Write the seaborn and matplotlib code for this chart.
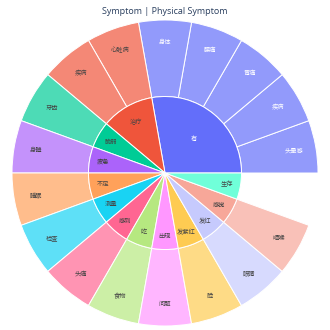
import colorsys
import numpy as np
import matplotlib
matplotlib.use("Agg")
import matplotlib.pyplot as plt
import matplotlib.colors as mcolors
import seaborn as sns

sns.set_theme(style="white")
plt.rcParams['font.family'] = ['Noto Sans CJK SC', 'DejaVu Sans']

# inner ring (level 1), counter-clockwise from 3 o'clock
inner_labels = ["有", "治疗", "脆弱", "疲惫", "不足", "测量", "感到", "吃", "出现", "发紫红", "发红", "感觉", "生存"]
# outer ring (level 2)
outer_parents = ["有", "有", "有", "有", "有", "治疗", "治疗", "脆弱", "疲惫", "不足", "测量",
                 "感到", "吃", "出现", "发紫红", "发红", "感觉"]
outer_labels = ["头晕感", "疾病", "胃痛", "腰痛", "身体", "心脏病", "疾病", "牙齿", "身體", "睡眠", "检查",
                "头痛", "食物", "问题", "脸", "眼睛", "咽喉"]
outer_counts = [1] * len(outer_labels)
leaf_counts = {"生存": 1}

base = ['#636efa', '#EF553B', '#00cc96', '#ab63fa', '#FFA15A',
        '#19d3f3', '#FF6692', '#B6E880', '#FF97FF', '#FECB52']


def lighten(c, amt):
    r, g, b = mcolors.to_rgb(c)
    h, l, s = colorsys.rgb_to_hls(r, g, b)
    return colorsys.hls_to_rgb(h, min(1, l + amt), s)


colorway = [mcolors.to_rgb(c) for c in base] + [lighten(c, 0.2) for c in base]


def fade(c, a=0.7):
    return tuple(a * x + (1 - a) for x in c)


def text_col(c):
    r, g, b = [x * 255 for x in c]
    return "white" if (r * 299 + g * 587 + b * 114) / 1000 < 128 else "#444444"


inner_counts = []
for lab in inner_labels:
    n = sum(v for p, v in zip(outer_parents, outer_counts) if p == lab)
    inner_counts.append(n if n else leaf_counts.get(lab, 0))

cmap = {lab: colorway[i] for i, lab in enumerate(inner_labels)}
inner_colors = [cmap[l] if l not in leaf_counts else fade(cmap[l]) for l in inner_labels]

outer_vals = list(outer_counts)
outer_cols = [fade(cmap[p]) for p in outer_parents]
outer_txt = list(outer_labels)
outer_tc = [text_col(cmap[p]) for p in outer_parents]
for lab in inner_labels:
    if lab in leaf_counts:
        outer_vals.append(leaf_counts[lab])
        outer_cols.append((1, 1, 1, 0))
        outer_txt.append("")
        outer_tc.append("none")

fig = plt.figure(figsize=(3.3, 3.3), dpi=100)
ax = fig.add_axes([12 / 330, 4 / 330, 306 / 330, 306 / 330])
R = 1.0
r_in = 0.5

w_out, _ = ax.pie(outer_vals, radius=R, colors=outer_cols, startangle=0, counterclock=True,
                  wedgeprops=dict(width=R - r_in, edgecolor="white", linewidth=0.7))
for w, c in zip(w_out, outer_cols):
    if c == (1, 1, 1, 0):
        w.set_edgecolor("none")
w_in, _ = ax.pie(inner_counts, radius=r_in, colors=inner_colors, startangle=0, counterclock=True,
                 wedgeprops=dict(edgecolor="white", linewidth=0.7))

for w, t, tc in zip(w_out, outer_txt, outer_tc):
    if not t:
        continue
    a = np.deg2rad((w.theta1 + w.theta2) / 2)
    ax.text(0.855 * np.cos(a), 0.855 * np.sin(a), t, ha="center", va="center", fontsize=4.5, color=tc)

for w, t, n in zip(w_in, inner_labels, inner_counts):
    a = np.deg2rad((w.theta1 + w.theta2) / 2)
    rr = 0.44 - 0.03 * n
    ax.text(rr * np.cos(a), rr * np.sin(a), t, ha="center", va="center", fontsize=4.5,
            color=text_col(cmap[t]))

ax.set_xlim(-1, 1)
ax.set_ylim(-1, 1)
ax.set_aspect("equal")
ax.axis("off")

fig.text(0.5, 1 - 12 / 330, "Symptom | Physical Symptom", ha="center", va="center",
         fontsize=6.5, color="#2a3f5f", family=["Open Sans", "DejaVu Sans"])

fig.savefig("out.png", dpi=100)
